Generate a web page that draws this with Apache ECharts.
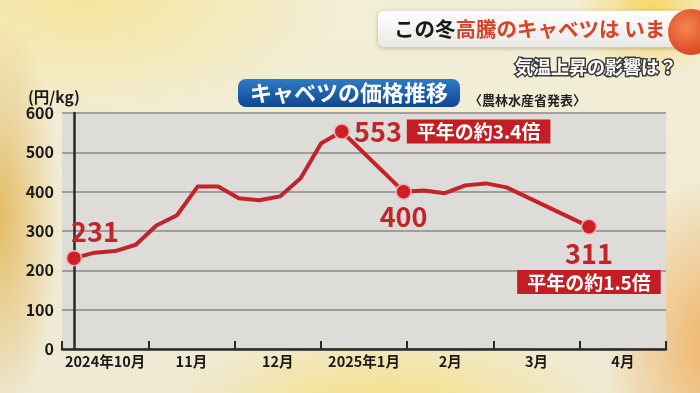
<!DOCTYPE html>
<html>
<head>
<meta charset="utf-8">
<script src="https://cdn.jsdelivr.net/npm/echarts@6/dist/echarts.min.js"></script>
<style>
html,body{margin:0;padding:0;}
body{
  width:700px;height:393px;overflow:hidden;
  background:
    radial-gradient(ellipse 60px 200px at 0% 55%, rgba(228,186,96,0.95), rgba(228,186,96,0) 100%),
    radial-gradient(ellipse 220px 90px at 55% 105%, rgba(249,222,112,0.85), rgba(249,222,112,0) 100%),
    radial-gradient(ellipse 110px 170px at 102% 88%, rgba(240,176,96,0.95), rgba(240,176,96,0) 100%),
    radial-gradient(circle 75px at 93% 2%, rgba(248,214,96,0.95), rgba(248,214,96,0) 100%),
    radial-gradient(ellipse 260px 120px at 12% 0%, rgba(246,228,150,0.9), rgba(246,228,150,0) 100%),
    linear-gradient(#f3eed6, #efe9d3);
}
#c{width:700px;height:393px;}
</style>
</head>
<body>
<div id="c"></div>
<script>
// ---- data ----
const months = ['2024年10月', '11月', '12月', '2025年1月', '2月', '3月', '4月'];
const weeks  = [0, 1, 2, 3, 4, 5, 6, 7, 8, 9, 10, 11, 12, 13, 14, 15, 16, 17, 18, 19, 20, 21, 22, 23, 24, 25];
const prices = [231, 245, 249, 265, 314, 340, 413, 413, 383, 378, 388, 434, 523, 553, null, null, 400, 403, 396, 416, 421, 411, null, null, null, 311];
const yTicks = [0, 100, 200, 300, 400, 500, 600];
const markedWeeks = [0, 13, 16, 25];
const ratioNotes = { 13: '平年の約3.4倍', 25: '平年の約1.5倍' };

const RED = '#c3232a';
const FONT = '"Noto Sans CJK JP", "Noto Sans", sans-serif';

function labelFor(w, v) {
  const note = ratioNotes[w];
  if (w === 0) return { show: true, position: 'top', offset: [21, 3], formatter: '{n|' + v + '}' };
  if (w === 13) return { show: true, position: 'right', distance: 4, formatter: '{n|' + v + '}{g|}{b|' + note + '}' };
  if (w === 16) return { show: true, position: 'bottom', distance: 1, formatter: '{n|' + v + '}' };
  return { show: true, position: 'bottom', distance: 3, align: 'center', formatter: '{n|' + v + '}\n{b|' + note + '}' };
}

const seriesData = weeks.map((w, i) => {
  const v = prices[i];
  const item = { value: [w, v === null ? '-' : v] };
  if (markedWeeks.indexOf(w) >= 0) {
    item.symbol = 'circle';
    item.symbolSize = 15;
    item.label = labelFor(w, v);
  }
  return item;
});

const chart = echarts.init(document.getElementById('c'), null, { renderer: 'canvas' });
chart.setOption({
  backgroundColor: 'transparent',
  animation: false,
  textStyle: { fontFamily: FONT },
  title: [
    {
      left: 378, top: 9,
      text: '{k|この冬}{r|高騰のキャベツは いま}',
      backgroundColor: new echarts.graphic.LinearGradient(0, 0, 0, 1, [
        { offset: 0, color: '#ffffff' }, { offset: 1, color: '#e9e9e6' }]),
      borderRadius: 6,
      padding: [8, 40, 8, 16],
      shadowColor: 'rgba(0,0,0,0.25)', shadowBlur: 4, shadowOffsetY: 1,
      textStyle: {
        rich: {
          k: { fontFamily: FONT, fontSize: 20.5, fontWeight: 'bold', color: '#1a1a1a', lineHeight: 24 },
          r: { fontFamily: FONT, fontSize: 20.5, fontWeight: 'bold', color: '#d8432a', lineHeight: 24 }
        }
      }
    },
    {
      left: 510, top: 53,
      text: '気温上昇の影響は？',
      textStyle: { fontFamily: FONT, fontSize: 18, fontWeight: 'bold', color: '#ffffff',
                   textBorderColor: '#3b3b3b', textBorderWidth: 3 }
    },
    {
      left: 238, top: 79,
      text: 'キャベツの価格推移',
      backgroundColor: new echarts.graphic.LinearGradient(0, 0, 0, 1, [
        { offset: 0, color: '#2f7bc6' }, { offset: 1, color: '#0f4690' }]),
      borderRadius: 8,
      padding: [2, 12, 2, 12],
      textStyle: { fontFamily: FONT, fontSize: 22, fontWeight: 'bold', color: '#ffffff', lineHeight: 24 }
    },
    {
      left: 464, top: 89,
      text: '〈農林水産省発表〉',
      textStyle: { fontFamily: FONT, fontSize: 13, fontWeight: 'bold', color: '#222222' }
    },
    {
      left: 23, top: 84,
      text: '(円/kg)',
      textStyle: { fontFamily: FONT, fontSize: 15.5, fontWeight: 'bold', color: '#1a1a1a' }
    }
  ],
  graphic: [
    {
      type: 'circle', right: -14, top: 9, z: 100,
      shape: { r: 23 },
      style: {
        fill: new echarts.graphic.RadialGradient(0.4, 0.4, 0.7, [
          { offset: 0, color: '#f5874e' }, { offset: 1, color: '#d83c1e' }])
      }
    }
  ],
  grid: {
    left: 62, right: 34, top: 113, bottom: 44,
    show: true, backgroundColor: '#dddcd8', borderWidth: 0
  },
  xAxis: [
    {
      type: 'category', data: months, boundaryGap: true, position: 'bottom',
      axisLine: { show: true, lineStyle: { color: '#2a2a2a', width: 2.5 } },
      axisTick: { show: true, inside: true, length: 8, interval: 0, lineStyle: { color: '#2a2a2a', width: 2 } },
      axisLabel: { interval: 0, hideOverlap: false, color: '#1a1a1a', fontFamily: FONT, fontSize: 14.5, fontWeight: 'bold', margin: 5 },
      splitLine: { show: false }
    },
    {
      type: 'value', show: false, min: -0.583, max: 28.74,
      splitLine: { show: false }
    }
  ],
  yAxis: {
    type: 'value', min: 0, max: 600, interval: 100,
    axisLine: { show: true, lineStyle: { color: '#2a2a2a', width: 2.5 } },
    axisTick: { show: false },
    axisLabel: {
      color: '#1a1a1a', fontFamily: FONT, fontSize: 16, fontWeight: 'bold', margin: 8,
      formatter: v => (yTicks.indexOf(v) >= 0 ? String(v) : '')
    },
    splitLine: { show: true, lineStyle: { color: '#8a8a88', width: 1.5 } }
  },
  series: [{
    type: 'line',
    xAxisIndex: 1,
    data: seriesData,
    connectNulls: true,
    symbol: 'none',
    showAllSymbol: true,
    lineStyle: { color: RED, width: 4, join: 'round', cap: 'round' },
    itemStyle: { color: '#cc1f27', borderColor: '#f3b4b4', borderWidth: 1.5 },
    emphasis: { disabled: true },
    label: {
      rich: {
        n: { fontFamily: FONT, fontSize: 27, fontWeight: 'bold', color: RED, lineHeight: 32, verticalAlign: 'middle', align: 'center' },
        g: { width: 5 },
        b: { fontFamily: FONT, fontSize: 19, fontWeight: 'bold', color: '#ffffff', backgroundColor: '#c41e24',
             padding: [3, 10, 2, 10], lineHeight: 24, verticalAlign: 'middle', align: 'center' }
      }
    },
    z: 5
  }]
});
</script>
</body>
</html>
